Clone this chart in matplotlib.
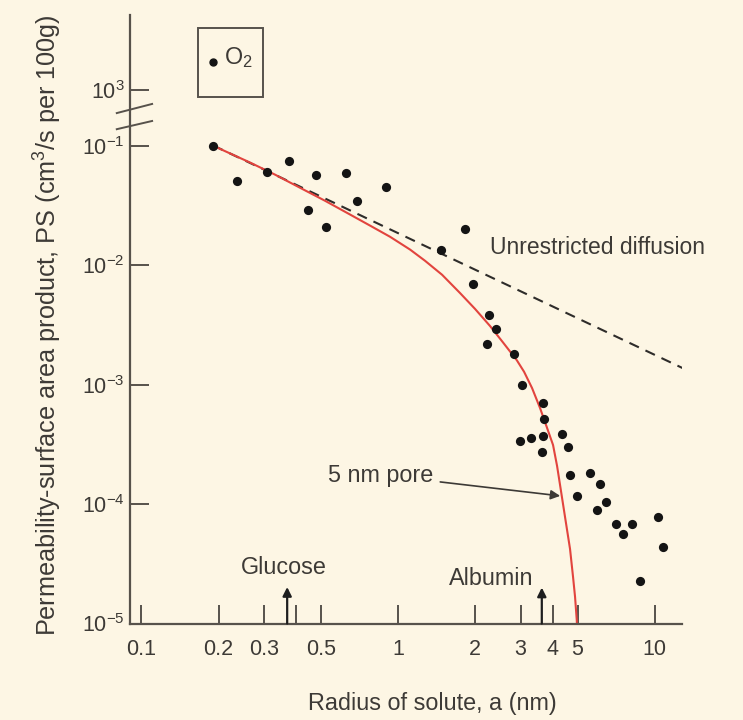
import matplotlib.pyplot as plt
from matplotlib.patches import Rectangle

plt.rcParams['font.family'] = ['Liberation Sans', 'DejaVu Sans']
plt.rcParams['mathtext.fontset'] = 'custom'
plt.rcParams['mathtext.rm'] = 'Liberation Sans'
plt.rcParams['mathtext.it'] = 'Liberation Sans:italic'
plt.rcParams['mathtext.bf'] = 'Liberation Sans:bold'

bg = '#fdf6e4'
ink = '#3d3a36'
axis_col = '#57524b'

# measured solutes: radius (nm) and PS (cm3/s per 100 g)
radius = [0.191, 0.235, 0.31, 0.377, 0.478, 0.627, 0.90, 0.446, 0.695, 0.524,
          1.82, 1.47, 1.95, 2.27, 2.40, 2.23, 2.83, 3.05, 3.68, 3.70,
          2.99, 3.28, 3.67, 3.64, 4.37, 4.58, 4.68, 4.97, 5.6, 6.12,
          6.46, 5.98, 7.07, 7.54, 8.13, 10.27, 10.74, 8.76]
ps = [0.100, 0.051, 0.060, 0.074, 0.057, 0.059, 0.045, 0.029, 0.0347, 0.0207,
      0.0201, 0.0134, 0.0070, 0.00385, 0.0029, 0.00217, 0.0018, 0.0010, 0.00070, 0.00051,
      0.00034, 0.000355, 0.00037, 0.000272, 0.000385, 0.000302, 0.000174, 0.000116, 0.000183, 0.000146,
      0.000105, 0.0000887, 0.0000677, 0.0000565, 0.0000677, 0.0000778, 0.0000440, 0.0000228]

# unrestricted diffusion (straight line on log-log)
free_a = [0.191, 16.1]
free_ps = [0.1, 0.00109]

# 5 nm pore curve
pore_a = [0.19, 0.265, 0.332, 0.415, 0.520, 0.650, 0.778, 0.931, 1.114, 1.274,
          1.484, 1.744, 1.994, 2.282, 2.564, 2.900, 3.096, 3.326, 3.573, 3.795,
          4.015, 4.163, 4.276, 4.471, 4.676, 4.804, 4.891, 4.966, 5.024]
pore_ps = [0.1, 0.0722, 0.0571, 0.0444, 0.0345, 0.0265, 0.0214, 0.01725, 0.01348, 0.01086,
           0.00830, 0.00583, 0.00430, 0.00309, 0.00225, 0.00160, 0.00128, 0.000935, 0.000636, 0.000441,
           0.000312, 0.000208, 0.000144, 0.0000778, 0.0000420, 0.0000245, 0.0000167, 0.0000107, 0.000006]

xticks = [0.1, 0.2, 0.3, 0.4, 0.5, 1, 2, 3, 4, 5, 10]
xtick_labels = ['0.1', '0.2', '0.3', '', '0.5', '1', '2', '3', '4', '5', '10']
yticks = [1e-5, 1e-4, 1e-3, 1e-2, 1e-1, 0.291]
ytick_labels = ['$10^{-5}$', '$10^{-4}$', '$10^{-3}$', '$10^{-2}$', '$10^{-1}$', '$10^{3}$']

glucose_a = 0.37
albumin_a = 3.63

fs = 16.8

fig = plt.figure(figsize=(7.43, 7.2), dpi=100, facecolor=bg)
ax = fig.add_axes([0.175, 0.134, 0.743, 0.845], facecolor=bg)

ax.set_xscale('log')
ax.set_yscale('log')
ax.set_xlim(0.0904, 12.77)
ax.set_ylim(1e-5, 1.236)

ax.plot(free_a, free_ps, ls=(0, (5, 3.5)), color='#2e2c2a', lw=1.5)
ax.plot(pore_a, pore_ps, color='#e2443e', lw=1.5)
ax.scatter(radius, ps, s=44, color='#141414', zorder=3, linewidths=0)

for s in ['top', 'right']:
    ax.spines[s].set_visible(False)
for s in ['left', 'bottom']:
    ax.spines[s].set_color(axis_col)
    ax.spines[s].set_linewidth(1.6)

ax.set_xticks(xticks)
ax.set_xticklabels(xtick_labels)
ax.set_yticks(yticks)
ax.set_yticklabels(ytick_labels)
ax.minorticks_off()
ax.tick_params(axis='both', direction='in', length=14, width=1.4, color=axis_col,
               labelcolor=ink, labelsize=15.5)
ax.tick_params(axis='x', pad=11)
ax.tick_params(axis='y', pad=4)

# axis break marks
for y0, y1 in [(0.839, 0.854), (0.8125, 0.826)]:
    ax.plot([-0.024, 0.04], [y0, y1], color=axis_col, lw=1.4,
            transform=ax.transAxes, clip_on=False)

ax.set_xlabel('Radius of solute, a (nm)', fontsize=fs, color=ink)
ax.xaxis.set_label_coords(0.547, -0.112)
ax.set_ylabel('Permeability-surface area product, PS (cm$^3$/s per 100g)',
              fontsize=18.2, color=ink)
ax.yaxis.set_label_coords(-0.12, 0.49)

ax.text(2.28, 0.0139, 'Unrestricted diffusion', fontsize=16.5, color=ink,
        ha='left', va='center')
ax.annotate('5 nm pore', xy=(4.28, 1.17e-4), xytext=(0.534, 1.75e-4),
            fontsize=fs, color=ink, ha='left', va='center',
            arrowprops=dict(arrowstyle='-|>', color=ink, lw=1.2,
                            shrinkA=3, shrinkB=0, mutation_scale=14))

ax.annotate('', xy=(glucose_a, 2.02e-5), xytext=(glucose_a, 1e-5),
            arrowprops=dict(arrowstyle='-|>', color='#1e1e1e', lw=1.6,
                            shrinkA=0, shrinkB=0, mutation_scale=13))
ax.text(0.36, 2.97e-5, 'Glucose', fontsize=fs, color=ink, ha='center', va='center')
ax.annotate('', xy=(albumin_a, 2.0e-5), xytext=(albumin_a, 1e-5),
            arrowprops=dict(arrowstyle='-|>', color='#1e1e1e', lw=1.6,
                            shrinkA=0, shrinkB=0, mutation_scale=13))
ax.text(2.30, 2.4e-5, 'Albumin', fontsize=fs, color=ink, ha='center', va='center')

# O2 key box
ax.add_patch(Rectangle((0.123, 0.865), 0.118, 0.1135, transform=ax.transAxes,
                       fill=False, edgecolor=axis_col, lw=1.4, clip_on=False))
ax.plot([0.150], [0.923], 'o', color='#141414', ms=5, transform=ax.transAxes)
ax.text(0.170, 0.931, 'O$_2$', fontsize=fs, color=ink, ha='left', va='center',
        transform=ax.transAxes)

fig.savefig('out.png', dpi=100, facecolor=bg)
